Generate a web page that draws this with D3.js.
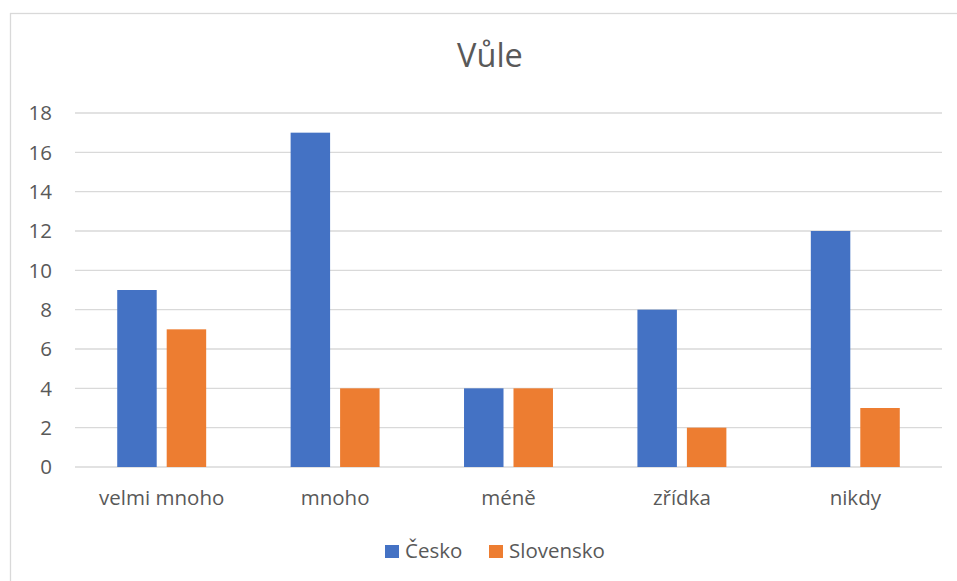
<!DOCTYPE html>
<html>
<head>
<meta charset="utf-8">
<script src="https://cdn.jsdelivr.net/npm/d3@7"></script>
<style>
  html, body { margin: 0; padding: 0; background: #fff; }
  svg { display: block; }
  text { font-family: "Open Sans", "Noto Sans", sans-serif; fill: #595959; }
</style>
</head>
<body>
<script>
const title = "Vůle";
const categories = ["velmi mnoho", "mnoho", "méně", "zřídka", "nikdy"];
const seriesNames = ["Česko", "Slovensko"];
const cesko = [9, 17, 4, 8, 12];
const slovensko = [7, 4, 4, 2, 3];
const yTicks = [0, 2, 4, 6, 8, 10, 12, 14, 16, 18];
const colors = ["#4472C4", "#ED7D31"];

const W = 957, H = 581;
const svg = d3.select("body").append("svg").attr("width", W).attr("height", H);

// chart border
svg.append("rect").attr("x", 10.5).attr("y", 13.5).attr("width", 960).attr("height", 600)
  .attr("fill", "none").attr("stroke", "#d9d9d9").attr("stroke-width", 1.3);

const plot = { left: 75, right: 942, top: 113, bottom: 467 };

const y = d3.scaleLinear().domain([0, 18]).range([plot.bottom, plot.top]);
const x0 = d3.scaleBand().domain(categories).range([plot.left, plot.right])
  .paddingInner(0.487).paddingOuter(0.2435);
const x1 = d3.scaleBand().domain(seriesNames).range([0, x0.bandwidth()]).paddingInner(0.202);

// gridlines
svg.append("g").selectAll("line").data(yTicks).join("line")
  .attr("x1", plot.left).attr("x2", plot.right)
  .attr("y1", d => y(d)).attr("y2", d => y(d))
  .attr("stroke", "#d9d9d9").attr("stroke-width", 1.4);

// y tick labels
svg.append("g").selectAll("text").data(yTicks).join("text")
  .attr("x", 52).attr("y", d => y(d)).attr("dy", "0.36em")
  .attr("text-anchor", "end").attr("font-size", 20.5).text(d => d);

// bars
const data = seriesNames.map((s, i) => ({ name: s, values: i === 0 ? cesko : slovensko, color: colors[i] }));
data.forEach(s => {
  svg.append("g").selectAll("rect").data(categories).join("rect")
    .attr("x", (c) => x0(c) + x1(s.name))
    .attr("width", x1.bandwidth())
    .attr("y", (c, i) => y(s.values[i]))
    .attr("height", (c, i) => y(0) - y(s.values[i]))
    .attr("fill", s.color);
});

// x labels
svg.append("g").selectAll("text").data(categories).join("text")
  .attr("x", c => x0(c) + x0.bandwidth() / 2).attr("y", 505)
  .attr("text-anchor", "middle").attr("font-size", 20.5).text(c => c);

// title
svg.append("text").attr("x", 490).attr("y", 67).attr("text-anchor", "middle")
  .attr("font-size", 32.5).text(title);

// legend
const legendX = [385, 489];
const lg = svg.append("g").selectAll("g").data(data).join("g")
  .attr("transform", (d, i) => `translate(${legendX[i]},0)`);
lg.append("rect").attr("x", 0).attr("y", 545).attr("width", 14).attr("height", 13).attr("fill", d => d.color);
lg.append("text").attr("x", 20).attr("y", 558).attr("font-size", 20.5).text(d => d.name);
</script>
</body>
</html>
